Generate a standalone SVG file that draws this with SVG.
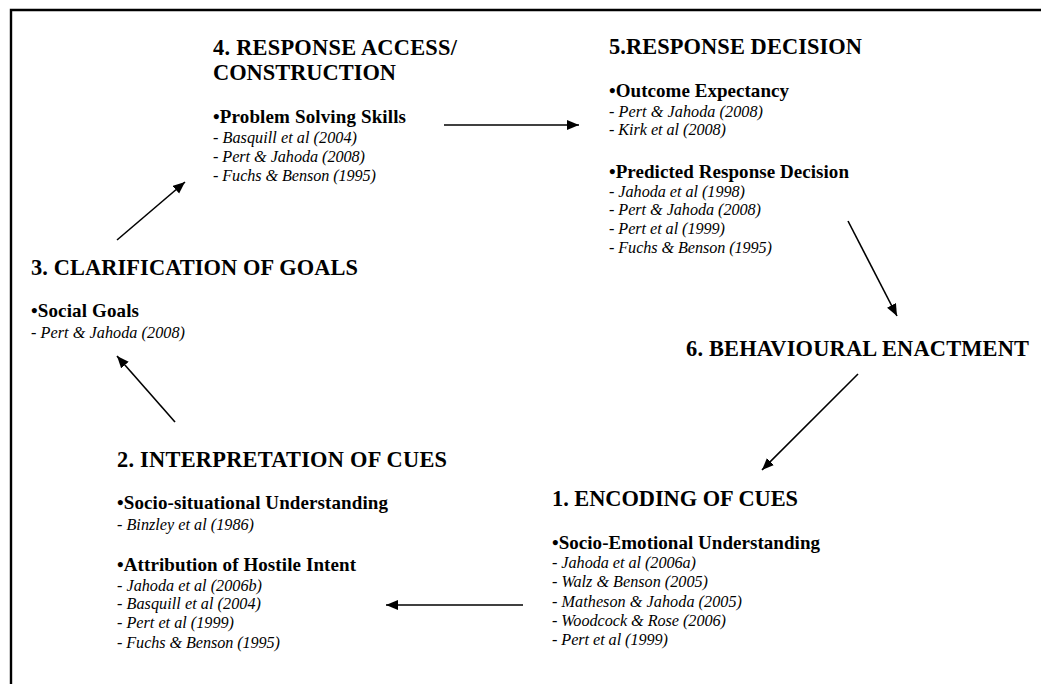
<svg xmlns="http://www.w3.org/2000/svg" width="1041" height="684" viewBox="0 0 1041 684">
  <style>
    .h { font-size: 22.4px; font-weight: bold; }
    .s { font-size: 19px; font-weight: bold; }
    .r { font-size: 16.2px; font-style: italic; }
    .conn { stroke: #000; stroke-width: 1.6; fill: none; }
  </style>
  <defs>
    <marker id="head" markerUnits="userSpaceOnUse" markerWidth="14" markerHeight="12" refX="12" refY="5" orient="auto">
      <path d="M0,0 L12,5 L0,10 z" fill="#000"/>
    </marker>
  </defs>
  <rect width="1041" height="684" fill="#fff"/>

  <!-- frame (open to the right and bottom) -->
  <path d="M11,684 L11,10 L1041,10" stroke="#000" stroke-width="2.4" fill="none"/>

  <g font-family="Liberation Serif, Tinos, Times New Roman, serif" fill="#000">
  <g id="node-4">
    <text class="h" x="213" y="55" textLength="244" lengthAdjust="spacing">4. RESPONSE ACCESS/</text>
    <text class="h" x="213" y="80" textLength="183" lengthAdjust="spacing">CONSTRUCTION</text>
    <text class="s" x="213" y="123" textLength="193" lengthAdjust="spacing">•Problem Solving Skills</text>
    <text class="r" x="213" y="143" textLength="144" lengthAdjust="spacing">- Basquill et al (2004)</text>
    <text class="r" x="213" y="162" textLength="152" lengthAdjust="spacing">- Pert &amp; Jahoda (2008)</text>
    <text class="r" x="213" y="181" textLength="163" lengthAdjust="spacing">- Fuchs &amp; Benson (1995)</text>
  </g>

  <g id="node-5">
    <text class="h" x="609" y="54" textLength="253" lengthAdjust="spacing">5.RESPONSE DECISION</text>
    <text class="s" x="609" y="97" textLength="180" lengthAdjust="spacing">•Outcome Expectancy</text>
    <text class="r" x="609" y="117" textLength="154" lengthAdjust="spacing">- Pert &amp; Jahoda (2008)</text>
    <text class="r" x="609" y="135" textLength="117" lengthAdjust="spacing">- Kirk et al (2008)</text>
    <text class="s" x="609" y="178" textLength="240" lengthAdjust="spacing">•Predicted Response Decision</text>
    <text class="r" x="609" y="197" textLength="136" lengthAdjust="spacing">- Jahoda et al (1998)</text>
    <text class="r" x="609" y="215" textLength="152" lengthAdjust="spacing">- Pert &amp; Jahoda (2008)</text>
    <text class="r" x="609" y="234" textLength="116" lengthAdjust="spacing">- Pert et al (1999)</text>
    <text class="r" x="609" y="253" textLength="163" lengthAdjust="spacing">- Fuchs &amp; Benson (1995)</text>
  </g>

  <g id="node-3">
    <text class="h" x="31" y="275" textLength="327" lengthAdjust="spacing">3. CLARIFICATION OF GOALS</text>
    <text class="s" x="31" y="317" textLength="108" lengthAdjust="spacing">•Social Goals</text>
    <text class="r" x="31" y="338" textLength="154" lengthAdjust="spacing">- Pert &amp; Jahoda (2008)</text>
  </g>

  <g id="node-6">
    <text class="h" x="686" y="356" textLength="343" lengthAdjust="spacing">6. BEHAVIOURAL ENACTMENT</text>
  </g>

  <g id="node-2">
    <text class="h" x="117" y="467" textLength="330" lengthAdjust="spacing">2. INTERPRETATION OF CUES</text>
    <text class="s" x="117" y="509" textLength="271" lengthAdjust="spacing">•Socio-situational Understanding</text>
    <text class="r" x="117" y="530" textLength="137" lengthAdjust="spacing">- Binzley et al (1986)</text>
    <text class="s" x="117" y="571" textLength="239" lengthAdjust="spacing">•Attribution of Hostile Intent</text>
    <text class="r" x="117" y="591" textLength="145" lengthAdjust="spacing">- Jahoda et al (2006b)</text>
    <text class="r" x="117" y="609" textLength="144" lengthAdjust="spacing">- Basquill et al (2004)</text>
    <text class="r" x="117" y="628" textLength="117" lengthAdjust="spacing">- Pert et al (1999)</text>
    <text class="r" x="117" y="648" textLength="163" lengthAdjust="spacing">- Fuchs &amp; Benson (1995)</text>
  </g>

  <g id="node-1">
    <text class="h" x="552" y="506" textLength="246" lengthAdjust="spacing">1. ENCODING OF CUES</text>
    <text class="s" x="552" y="549" textLength="268" lengthAdjust="spacing">•Socio-Emotional Understanding</text>
    <text class="r" x="552" y="568" textLength="144" lengthAdjust="spacing">- Jahoda et al (2006a)</text>
    <text class="r" x="552" y="587" textLength="156" lengthAdjust="spacing">- Walz &amp; Benson (2005)</text>
    <text class="r" x="552" y="607" textLength="190" lengthAdjust="spacing">- Matheson &amp; Jahoda (2005)</text>
    <text class="r" x="552" y="626" textLength="174" lengthAdjust="spacing">- Woodcock &amp; Rose (2006)</text>
    <text class="r" x="552" y="645" textLength="116" lengthAdjust="spacing">- Pert et al (1999)</text>
  </g>
  </g>

  <g id="connectors">
    <line class="conn" x1="444" y1="125" x2="579" y2="125" marker-end="url(#head)"/>
    <line class="conn" x1="848" y1="221" x2="897" y2="316" marker-end="url(#head)"/>
    <line class="conn" x1="858" y1="374" x2="762" y2="470" marker-end="url(#head)"/>
    <line class="conn" x1="523" y1="605" x2="386" y2="605" marker-end="url(#head)"/>
    <line class="conn" x1="175" y1="422" x2="117" y2="356" marker-end="url(#head)"/>
    <line class="conn" x1="117" y1="240" x2="185" y2="182" marker-end="url(#head)"/>
  </g>
</svg>
